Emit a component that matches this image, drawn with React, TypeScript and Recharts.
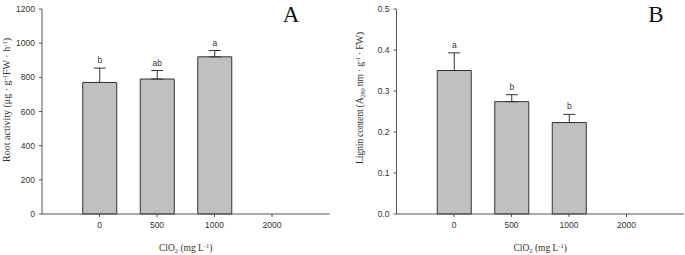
import React from "react";
import {
  BarChart,
  Bar,
  XAxis,
  YAxis,
  ErrorBar,
  LabelList,
  Customized,
} from "recharts";

// ClO2 treatment levels (mg L-1)
const doses = ["0", "500", "1000", "2000"];

// panel A: root activity
const rootActivity = [770, 790, 920, 0];
const rootActivityErr = [84, 50, 37, 0];
const rootLetters = ["b", "ab", "a", ""];
const rootTicks = [0, 200, 400, 600, 800, 1000, 1200];

// panel B: lignin content
const lignin = [0.35, 0.274, 0.223, 0];
const ligninErr = [0.043, 0.017, 0.02, 0];
const ligninLetters = ["a", "b", "b", ""];
const ligninTicks = [0, 0.1, 0.2, 0.3, 0.4, 0.5];

const AXIS = "#555";
const TEXT = "#333";
const SANS = "'Liberation Sans', Arial, sans-serif";
const SERIF = "'Liberation Serif', 'Times New Roman', serif";

const buildRows = (values: number[], errs: number[]) =>
  doses.map((d, i) => ({ dose: d, value: values[i], err: [0, errs[i]] }));

const rootData = buildRows(rootActivity, rootActivityErr);
const ligninData = buildRows(lignin, ligninErr);

function LetterLabel(props: any) {
  const { x, y, width, height, value, index, letters, errs } = props;
  if (!value || !letters[index]) return null;
  // top of the error bar, via the bar's own px-per-unit
  const capY = y - (errs[index] * height) / value;
  return (
    <text
      x={x + width / 2}
      y={capY - 5}
      textAnchor="middle"
      fontSize={8.5}
      fontFamily={SANS}
      fill={TEXT}
    >
      {letters[index]}
    </text>
  );
}

function XTitle(props: any) {
  const { viewBox } = props;
  const cx = viewBox.x + viewBox.width / 2;
  return (
    <text x={cx} y={viewBox.y + 37} textAnchor="middle" fontSize={9.5} fontFamily={SERIF} fill={TEXT}>
      ClO
      <tspan fontSize={6.5} dy={2}>2</tspan>
      <tspan dy={-2}> (mg L</tspan>
      <tspan fontSize={6.5} dy={-3.5}>-1</tspan>
      <tspan dy={3.5}>)</tspan>
    </text>
  );
}

function RootTitle() {
  const cx = 10;
  const cy = 100;
  return (
    <text
      x={cx}
      y={cy}
      transform={`rotate(-90 ${cx} ${cy})`}
      textAnchor="middle"
      textLength={124}
      lengthAdjust="spacing"
      fontSize={10}
      fontFamily={SERIF}
      fill={TEXT}
    >
      Root activity (μg · g
      <tspan fontSize={6.5} dy={-3.5}>-1</tspan>
      <tspan dy={3.5}>FW · h</tspan>
      <tspan fontSize={6.5} dy={-3.5}>-1</tspan>
      <tspan dy={3.5}>)</tspan>
    </text>
  );
}

function LigninTitle() {
  const cx = 18;
  const cy = 98;
  return (
    <text
      x={cx}
      y={cy}
      transform={`rotate(-90 ${cx} ${cy})`}
      textAnchor="middle"
      textLength={132}
      lengthAdjust="spacing"
      fontSize={10}
      fontFamily={SERIF}
      fill={TEXT}
    >
      Lignin content (A
      <tspan fontSize={6.5} dy={2}>280</tspan>
      <tspan dy={-2}> nm · g</tspan>
      <tspan fontSize={6.5} dy={-3.5}>-1</tspan>
      <tspan dy={3.5}> · FW)</tspan>
    </text>
  );
}

interface PanelProps {
  data: { dose: string; value: number; err: number[] }[];
  ticks: number[];
  letters: string[];
  errs: number[];
  tag: string;
  tagX: number;
  width: number;
  marginLeft: number;
  marginRight: number;
  tickFmt: (v: number) => string;
  yTitle: React.ReactElement;
}

function Panel({
  data,
  ticks,
  letters,
  errs,
  tag,
  tagX,
  width,
  marginLeft,
  marginRight,
  tickFmt,
  yTitle,
}: PanelProps) {
  const slot = 57.5;
  return (
    <BarChart
      width={width}
      height={255}
      data={data}
      margin={{ top: 9, right: marginRight, bottom: 16, left: marginLeft }}
      barSize={34}
    >
      <XAxis
        dataKey="dose"
        interval={0}
        padding={{ left: slot / 2, right: slot / 2 }}
        height={25}
        tickSize={3}
        tickMargin={5}
        axisLine={{ stroke: AXIS }}
        tickLine={{ stroke: AXIS }}
        tick={{ fontSize: 8.5, fontFamily: SANS, fill: TEXT }}
        label={<XTitle />}
      />
      <YAxis
        width={30}
        domain={[ticks[0], ticks[ticks.length - 1]]}
        ticks={ticks}
        tickFormatter={tickFmt}
        tickSize={3}
        tickMargin={4}
        axisLine={{ stroke: AXIS }}
        tickLine={{ stroke: AXIS }}
        tick={{ fontSize: 8.5, fontFamily: SANS, fill: TEXT }}
      />
      <Bar dataKey="value" fill="#c0c0c0" stroke="#333" strokeWidth={1} isAnimationActive={false}>
        <ErrorBar dataKey="err" width={6} stroke="#333" strokeWidth={1} direction="y" />
        <LabelList
          dataKey="value"
          content={(p: any) => <LetterLabel {...p} letters={letters} errs={errs} />}
        />
      </Bar>
      <Customized component={() => yTitle} />
      <Customized
        component={() => (
          <text x={tagX} y={22} textAnchor="middle" fontSize={23} fontFamily={SERIF} fill="#111">
            {tag}
          </text>
        )}
      />
    </BarChart>
  );
}

export default function App() {
  return (
    <div
      style={{
        position: "absolute",
        left: 0,
        top: 0,
        width: 685,
        height: 255,
        background: "#fff",
        overflow: "hidden",
      }}
    >
      <div style={{ position: "absolute", left: 0, top: 0 }}>
        <Panel
          data={rootData}
          ticks={rootTicks}
          letters={rootLetters}
          errs={rootActivityErr}
          tag="A"
          tagX={291}
          width={345}
          marginLeft={12}
          marginRight={15.5}
          tickFmt={(v) => String(v)}
          yTitle={<RootTitle />}
        />
      </div>
      <div style={{ position: "absolute", left: 345, top: 0 }}>
        <Panel
          data={ligninData}
          ticks={ligninTicks}
          letters={ligninLetters}
          errs={ligninErr}
          tag="B"
          tagX={311}
          width={340}
          marginLeft={21.5}
          marginRight={1}
          tickFmt={(v) => v.toFixed(1)}
          yTitle={<LigninTitle />}
        />
      </div>
    </div>
  );
}
